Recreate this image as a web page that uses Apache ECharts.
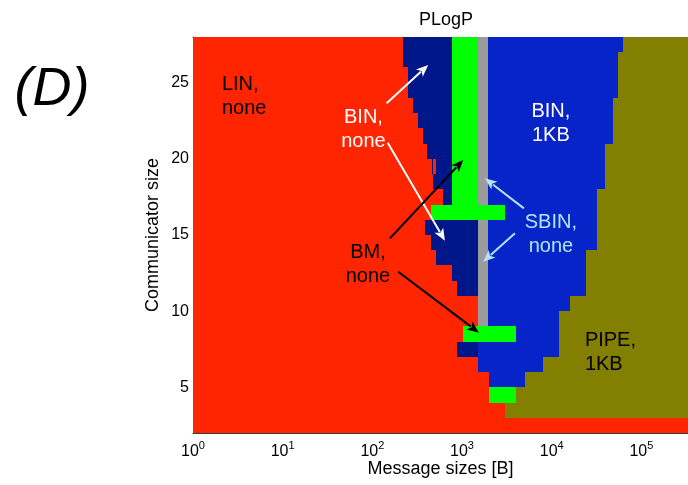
<!DOCTYPE html>
<html>
<head>
<meta charset="utf-8">
<script src="https://cdn.jsdelivr.net/npm/echarts@6/dist/echarts.min.js"></script>
<style>
  html, body { margin: 0; padding: 0; background: #fff; overflow: hidden; }
  #main { width: 688px; height: 485px; }
</style>
</head>
<body>
<div id="main"></div>
<script>
// Best collective algorithm (PLogP model) per communicator size and message size.
// Each entry: [communicator size, from message size (B), to message size (B)]
const MAX_BYTES = 331000;

const linNone = [
  [27, 1, 219], [26, 1, 219], [25, 1, 249], [24, 1, 249], [23, 1, 284], [22, 1, 322],
  [21, 1, 367], [20, 1, 406], [19, 1, 458], [19, 477, 512], [18, 1, 477], [17, 1, 612],
  [16, 1, 447], [15, 1, 386], [14, 1, 447], [13, 1, 508], [12, 1, 765], [11, 1, 884],
  [10, 1, 1517], [9, 1, 1517], [8, 1, 1016], [7, 1, 884], [6, 1, 1517], [5, 1, 2010],
  [4, 1, 2010], [3, 1, 3007], [2, 1, MAX_BYTES]
];

const binNone = [
  [27, 219, 765], [26, 219, 765], [25, 249, 765], [24, 249, 765], [23, 284, 765],
  [22, 322, 765], [21, 367, 765], [20, 406, 765], [19, 458, 477], [19, 512, 765],
  [18, 477, 765], [17, 612, 765], [15, 386, 1517], [14, 447, 1517], [13, 508, 1517],
  [12, 765, 1517], [11, 884, 1517], [7, 884, 1517]
];

const bmNone = [
  [27, 765, 1517], [26, 765, 1517], [25, 765, 1517], [24, 765, 1517], [23, 765, 1517],
  [22, 765, 1517], [21, 765, 1517], [20, 765, 1517], [19, 765, 1517], [18, 765, 1517],
  [17, 765, 1517], [16, 447, 3007], [8, 1016, 3990], [4, 2010, 3990]
];

const sbinNone = [
  [27, 1517, 1958], [26, 1517, 1958], [25, 1517, 1958], [24, 1517, 1958], [23, 1517, 1958],
  [22, 1517, 1958], [21, 1517, 1958], [20, 1517, 1958], [19, 1517, 1958], [18, 1517, 1958],
  [17, 1517, 1958], [15, 1517, 1958], [14, 1517, 1958], [13, 1517, 1958], [12, 1517, 1958],
  [11, 1517, 1958], [10, 1517, 1958], [9, 1517, 1958]
];

const bin1KB = [
  [27, 1958, 62700], [26, 1958, 54700], [25, 1958, 54700], [24, 1958, 54700],
  [23, 1958, 48100], [22, 1958, 48100], [21, 1958, 48100], [20, 1958, 39170],
  [19, 1958, 39170], [18, 1958, 39170], [17, 1958, 31900], [16, 3007, 31900],
  [15, 1958, 31900], [14, 1958, 31900], [13, 1958, 23870], [12, 1958, 23870],
  [11, 1958, 23870], [10, 1958, 15950], [9, 1958, 12020], [8, 3990, 12020],
  [7, 1517, 12020], [6, 1517, 8040], [5, 2010, 5027]
];

const pipe1KB = [
  [27, 62700, MAX_BYTES], [26, 54700, MAX_BYTES], [25, 54700, MAX_BYTES], [24, 54700, MAX_BYTES],
  [23, 48100, MAX_BYTES], [22, 48100, MAX_BYTES], [21, 48100, MAX_BYTES], [20, 39170, MAX_BYTES],
  [19, 39170, MAX_BYTES], [18, 39170, MAX_BYTES], [17, 31900, MAX_BYTES], [16, 31900, MAX_BYTES],
  [15, 31900, MAX_BYTES], [14, 31900, MAX_BYTES], [13, 23870, MAX_BYTES], [12, 23870, MAX_BYTES],
  [11, 23870, MAX_BYTES], [10, 15950, MAX_BYTES], [9, 12020, MAX_BYTES], [8, 12020, MAX_BYTES],
  [7, 12020, MAX_BYTES], [6, 8040, MAX_BYTES], [5, 5027, MAX_BYTES], [4, 3990, MAX_BYTES],
  [3, 3007, MAX_BYTES]
];

const yTickLabels = [5, 10, 15, 20, 25];

const FONT = 'Liberation Sans, Arial, Helvetica, sans-serif';

const chart = echarts.init(document.getElementById('main'), null, {
  renderer: 'canvas', width: 688, height: 485
});

// One cell row spans [size, size + 1] vertically and [from, to] horizontally.
function regionSeries(name, data, color) {
  return {
    name: name,
    type: 'custom',
    xAxisIndex: 0,
    yAxisIndex: 0,
    clip: true,
    silent: true,
    dimensions: ['comm', 'from', 'to'],
    encode: { x: [1, 2], y: 0 },
    data: data,
    renderItem: function (params, api) {
      const size = api.value(0);
      const a = api.coord([api.value(1), size + 1]);
      const b = api.coord([api.value(2), size]);
      const x0 = Math.round(a[0]), x1 = Math.round(b[0]);
      const y0 = Math.round(a[1]), y1 = Math.round(b[1]);
      return {
        type: 'rect',
        shape: { x: x0, y: y0, width: x1 - x0, height: y1 - y0 },
        style: { fill: color, stroke: null }
      };
    }
  };
}

function isPow10(v) {
  const k = Math.log10(v);
  return Math.abs(k - Math.round(k)) < 1e-6;
}

chart.setOption({
  animation: false,
  backgroundColor: '#ffffff',
  title: {
    text: 'PLogP',
    left: 441,
    top: 6,
    textAlign: 'center',
    textStyle: { fontFamily: FONT, fontSize: 18, fontWeight: 'normal', color: '#000' }
  },
  grid: {
    left: 193, top: 37, right: 0, bottom: 52,
    containLabel: false,
    outerBoundsMode: 'none'
  },
  xAxis: [
    {
      type: 'log',
      logBase: 10,
      min: 1,
      max: MAX_BYTES,
      position: 'bottom',
      name: 'Message sizes [B]',
      nameLocation: 'middle',
      nameGap: 27,
      nameMoveOverlap: false,
      nameTextStyle: { fontFamily: FONT, fontSize: 18, color: '#000' },
      axisLine: { show: true, lineStyle: { color: '#3a3a3a', width: 1 } },
      axisTick: { show: false },
      splitLine: { show: false },
      axisLabel: {
        show: true,
        margin: 7,
        showMaxLabel: false,
        fontFamily: FONT,
        color: '#000',
        formatter: function (v) {
          if (!isPow10(v)) return '';
          return '{b|10}{s|' + Math.round(Math.log10(v)) + '}';
        },
        rich: {
          b: { fontFamily: FONT, fontSize: 16, color: '#000', lineHeight: 20, verticalAlign: 'bottom' },
          s: { fontFamily: FONT, fontSize: 11, color: '#000', lineHeight: 12, verticalAlign: 'top', padding: [0, 0, 16, 0] }
        }
      }
    },
    {
      type: 'log',
      logBase: 10,
      min: 1,
      max: MAX_BYTES,
      position: 'top',
      axisLine: { show: true, lineStyle: { color: '#3a3a3a', width: 1 } },
      axisTick: { show: false },
      axisLabel: { show: false },
      splitLine: { show: false }
    }
  ],
  yAxis: {
    type: 'value',
    min: 2,
    max: 28,
    interval: 1,
    name: 'Communicator size',
    nameLocation: 'middle',
    nameGap: 31,
    nameMoveOverlap: false,
    nameTextStyle: { fontFamily: FONT, fontSize: 18, color: '#000' },
    axisLine: { show: true, lineStyle: { color: '#3a3a3a', width: 1 } },
    axisTick: { show: false },
    splitLine: { show: false },
    axisLabel: {
      margin: 4,
      fontFamily: FONT,
      fontSize: 16,
      color: '#000',
      formatter: function (v) { return yTickLabels.indexOf(v) >= 0 ? String(v) : ''; }
    }
  },
  series: [
    regionSeries('LIN, none', linNone, '#ff2500'),
    regionSeries('BIN, none', binNone, '#00178a'),
    regionSeries('BM, none', bmNone, '#00ff00'),
    regionSeries('SBIN, none', sbinNone, '#9b9b9b'),
    regionSeries('BIN, 1KB', bin1KB, '#0624c8'),
    regionSeries('PIPE, 1KB', pipe1KB, '#837f00')
  ]
});

// Region labels, anchored in data space: [message size, communicator size]
const labels = [
  { text: 'LIN,\nnone', at: [2.1, 25.64], align: 'left', color: '#000' },
  { text: 'BIN,\nnone', at: [79.6, 23.51], align: 'center', color: '#fff' },
  { text: 'BIN,\n1KB', at: [9795, 23.88], align: 'center', color: '#fff' },
  { text: 'SBIN,\nnone', at: [9795, 16.64], align: 'center', color: '#b4e4f8' },
  { text: 'BM,\nnone', at: [89.3, 14.65], align: 'center', color: '#000' },
  { text: 'PIPE,\n1KB', at: [23440, 8.89], align: 'left', color: '#000' }
];

// Pointer arrows: from label to region, in data space.
const arrows = [
  { from: [144.3, 23.65], to: [419.7, 26.16], color: '#fff' },
  { from: [148.2, 21.06], to: [644.5, 14.63], color: '#fff' },
  { from: [157.1, 14.78], to: [1031, 19.93], color: '#000' },
  { from: [194.5, 12.59], to: [1543, 8.59], color: '#000' },
  { from: [4898, 16.75], to: [1799, 18.72], color: '#b4e4f8' },
  { from: [3890, 15.11], to: [1722, 13.25], color: '#b4e4f8' }
];

function toPx(p) {
  return chart.convertToPixel({ xAxisIndex: 0, yAxisIndex: 0 }, p);
}

const graphics = [];

labels.forEach(function (l) {
  const p = toPx(l.at);
  graphics.push({
    type: 'text',
    x: p[0],
    y: p[1],
    z: 100,
    silent: true,
    style: {
      text: l.text,
      fill: l.color,
      font: '20px ' + FONT,
      lineHeight: 24,
      align: l.align,
      verticalAlign: 'top'
    }
  });
});

arrows.forEach(function (a) {
  const s = toPx(a.from);
  const t = toPx(a.to);
  const dx = t[0] - s[0], dy = t[1] - s[1];
  const len = Math.sqrt(dx * dx + dy * dy);
  const ux = dx / len, uy = dy / len;
  const headLen = 12, headHalf = 5;
  const bx = t[0] - ux * headLen, by = t[1] - uy * headLen;
  graphics.push({
    type: 'line',
    z: 100,
    silent: true,
    shape: { x1: s[0], y1: s[1], x2: bx + ux * 2, y2: by + uy * 2 },
    style: { stroke: a.color, lineWidth: 2 }
  });
  graphics.push({
    type: 'polygon',
    z: 100,
    silent: true,
    shape: {
      points: [
        [t[0], t[1]],
        [bx - uy * headHalf, by + ux * headHalf],
        [bx + ux * 3, by + uy * 3],
        [bx + uy * headHalf, by - ux * headHalf]
      ]
    },
    style: { fill: a.color, stroke: null }
  });
});

// Panel letter
graphics.push({
  type: 'text',
  x: 52,
  y: 90,
  z: 100,
  silent: true,
  style: {
    text: '(D)',
    fill: '#000',
    font: 'italic 54px ' + FONT,
    align: 'center',
    verticalAlign: 'middle'
  }
});

chart.setOption({ graphic: graphics });
</script>
</body>
</html>
